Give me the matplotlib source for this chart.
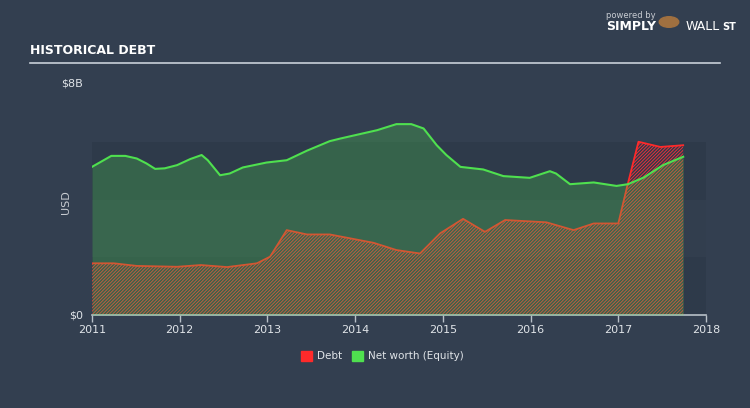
import matplotlib
matplotlib.use('Agg')
import matplotlib.pyplot as plt
import matplotlib.patches as mpatches

# Data (USD billions)
eq_years = [2011.00, 2011.22, 2011.38, 2011.51, 2011.62, 2011.72, 2011.83, 2011.97,
            2012.12, 2012.25, 2012.32, 2012.46, 2012.57, 2012.72, 2012.99, 2013.22,
            2013.45, 2013.71, 2013.83, 2014.25, 2014.47, 2014.64, 2014.78, 2014.93,
            2015.04, 2015.20, 2015.46, 2015.69, 2015.99, 2016.22, 2016.29, 2016.45,
            2016.72, 2016.98, 2017.11, 2017.29, 2017.51, 2017.74]
equity = [5.13, 5.51, 5.51, 5.42, 5.25, 5.06, 5.08, 5.19,
          5.40, 5.54, 5.36, 4.84, 4.90, 5.11, 5.28, 5.36,
          5.69, 6.02, 6.11, 6.40, 6.61, 6.61, 6.46, 5.88,
          5.54, 5.13, 5.04, 4.81, 4.75, 4.98, 4.90, 4.53,
          4.59, 4.47, 4.53, 4.76, 5.19, 5.48]

debt_years = [2011.00, 2011.25, 2011.51, 2011.97, 2012.24, 2012.54, 2012.88, 2013.03,
              2013.22, 2013.45, 2013.71, 2014.21, 2014.47, 2014.74, 2014.97, 2015.23,
              2015.48, 2015.71, 2016.18, 2016.49, 2016.72, 2017.00, 2017.10, 2017.23,
              2017.48, 2017.74]
debt = [1.79, 1.79, 1.70, 1.67, 1.73, 1.66, 1.79, 2.02,
        2.94, 2.79, 2.79, 2.50, 2.25, 2.13, 2.83, 3.33,
        2.88, 3.29, 3.21, 2.94, 3.17, 3.17, 4.44, 6.00,
        5.82, 5.88]

year_ticks = [2011, 2012, 2013, 2014, 2015, 2016, 2017, 2018]

BG = '#333f50'
plt.rcParams['hatch.linewidth'] = 0.65

fig = plt.figure(figsize=(7.5, 4.08), dpi=100, facecolor=BG)
ax = fig.add_axes([92/750, 1-315/408, 614/750, 231/408])
ax.set_facecolor(BG)

# background bands
for lo, col in [(0, '#2e3a4a'), (2, '#323e4e'), (4, '#2e3a4a')]:
    ax.axhspan(lo, lo + 2, color=col, zorder=0, lw=0)

# debt: fine red hatch
ax.fill_between(debt_years, 0, debt, facecolor='none', edgecolor='#f0303a',
                hatch='/' * 10, lw=0, zorder=1)
ax.plot(debt_years, debt, color='#ff2a2a', lw=1.3, zorder=2)

# equity: translucent green area over it
ax.fill_between(eq_years, 0, equity, color='#4fe04f', alpha=0.25, lw=0, zorder=3)
ax.plot(eq_years, equity, color='#4fe04f', lw=1.5, zorder=4)

ax.set_xlim(2011, 2018)
ax.set_ylim(0, 8)
for s in ['top', 'right', 'left']:
    ax.spines[s].set_visible(False)
ax.spines['bottom'].set_color('#b8c0c8')
ax.spines['bottom'].set_linewidth(1.2)
ax.set_xticks(year_ticks)
ax.set_xticklabels([str(y) for y in year_ticks])
ax.tick_params(axis='x', colors='#b8c0c8', labelcolor='#e0e4e8', labelsize=8,
               length=5, width=1, pad=2)
ax.set_yticks([])
ax.text(-0.015, 0, '$0', transform=ax.transAxes, ha='right', va='center',
        color='#e0e4e8', fontsize=8)
ax.text(-0.015, 1, '$8B', transform=ax.transAxes, ha='right', va='center',
        color='#e0e4e8', fontsize=8)
fig.text(66/750, 1-202/408, 'USD', rotation=90, ha='center', va='center',
         color='#c8ccd2', fontsize=8)

# title and rule
fig.text(30/750, 1-50/408, 'HISTORICAL DEBT', color='white', fontsize=9,
         fontweight='bold', family='DejaVu Sans Condensed', ha='left', va='center')
fig.add_artist(plt.Line2D([30/750, 720/750], [1-63/408, 1-63/408],
                          color='#c8d0d8', lw=1.2))

# logo text
fig.text(606/750, 1-15/408, 'powered by', color='#c8ccd2', fontsize=6,
         ha='left', va='center')
fig.text(606/750, 1-27/408, 'SIMPLY', color='white', fontsize=9, fontweight='bold',
         ha='left', va='center')
fig.text(686/750, 1-27/408, 'WALL', color='white', fontsize=9,
         ha='left', va='center')
fig.text(722/750, 1-27/408, 'ST', color='white', fontsize=7, fontweight='bold',
         ha='left', va='center')
fig.add_artist(mpatches.Circle((669/750, 1-22/408), 0.013, transform=fig.transFigure,
                               color='#a07040'))

# legend
fig.add_artist(mpatches.Rectangle((301/750, 1-361/408), 11/750, 10/408,
                                  transform=fig.transFigure, color='#ff2a2a'))
fig.text(317/750, 1-356/408, 'Debt', color='#e0e4e8', fontsize=7.5,
         ha='left', va='center')
fig.add_artist(mpatches.Rectangle((352/750, 1-361/408), 11/750, 10/408,
                                  transform=fig.transFigure, color='#4fe04f'))
fig.text(368/750, 1-356/408, 'Net worth (Equity)', color='#e0e4e8', fontsize=7.5,
         ha='left', va='center')

fig.savefig('out.png', dpi=100, facecolor=BG)
